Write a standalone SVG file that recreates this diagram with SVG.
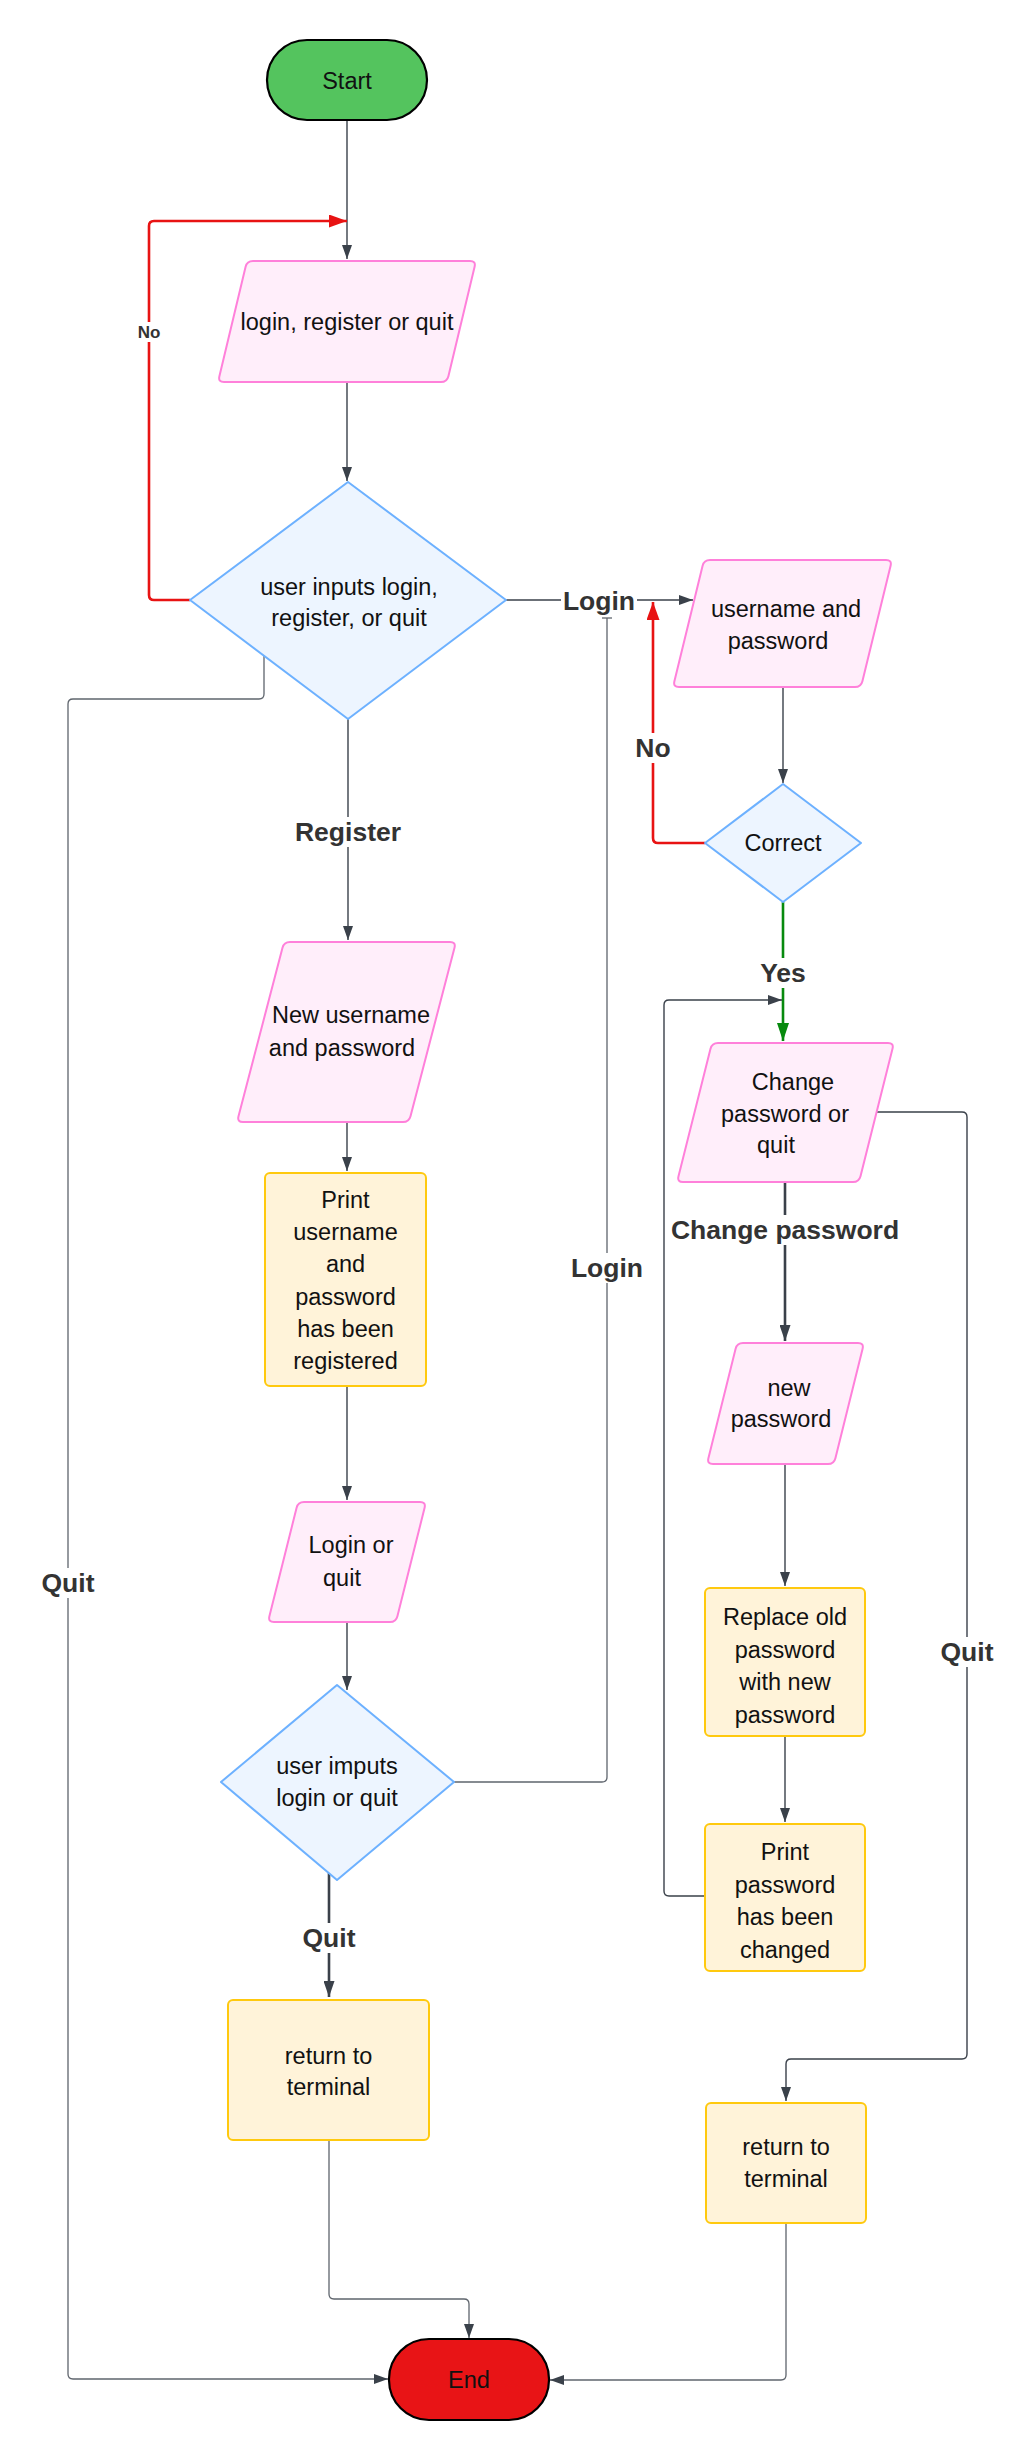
<svg xmlns="http://www.w3.org/2000/svg" width="1034" height="2460" viewBox="0 0 1034 2460">
<style>
.bg{fill:#ffffff}
.t{font-family:"Liberation Sans",Arial,sans-serif;font-size:23.5px;fill:#111;text-anchor:middle;dominant-baseline:central}
.lb{font-family:"Liberation Sans",Arial,sans-serif;font-size:26.5px;font-weight:bold;fill:#333;text-anchor:middle;dominant-baseline:central}
.lbs{font-family:"Liberation Sans",Arial,sans-serif;font-size:17px;font-weight:bold;fill:#333;text-anchor:middle;dominant-baseline:central}
.term{stroke:#000;stroke-width:2.2}
.io{fill:#ffeefa;stroke:#ff80da;stroke-width:2}
.dec{fill:#edf5ff;stroke:#6db1ff;stroke-width:2;stroke-linejoin:round}
.proc{fill:#fff3d9;stroke:#ffc90e;stroke-width:2}
.c{fill:none;stroke:#3a414a;stroke-width:1.4}
.cg{fill:none;stroke:#5f656d;stroke-width:1.3}
.ck{fill:none;stroke:#3a414a;stroke-width:2.6}
.cr{fill:none;stroke:#e81313;stroke-width:2.6}
.cgr{fill:none;stroke:#078a0e;stroke-width:2.6}
.lbg{fill:#ffffff}
</style>
<defs>
<marker id="a" viewBox="0 0 14 10" refX="14" refY="5" markerWidth="14" markerHeight="10" markerUnits="userSpaceOnUse" orient="auto"><path d="M0,0 L14,5 L0,10 Z" fill="#3a414a"/></marker>
<marker id="ak" viewBox="0 0 16 11" refX="16" refY="5.5" markerWidth="16" markerHeight="11" markerUnits="userSpaceOnUse" orient="auto"><path d="M0,0 L16,5.5 L0,11 Z" fill="#3a414a"/></marker>
<marker id="ar" viewBox="0 0 18 13" refX="18" refY="6.5" markerWidth="18" markerHeight="13" markerUnits="userSpaceOnUse" orient="auto"><path d="M0,0 L18,6.5 L0,13 Z" fill="#e81313"/></marker>
<marker id="ag" viewBox="0 0 18 12" refX="18" refY="6" markerWidth="18" markerHeight="12" markerUnits="userSpaceOnUse" orient="auto"><path d="M0,0 L18,6 L0,12 Z" fill="#078a0e"/></marker>
</defs>
<rect class="bg" x="0" y="0" width="1034" height="2460"/>

<g id="connectors">
<path class="c" d="M347,120 L347,259" marker-end="url(#a)"/>
<path class="c" d="M347,382 L347,481" marker-end="url(#a)"/>
<path class="cr" d="M190,600 L154,600 Q149,600 149,595 L149,226 Q149,221 154,221 L347,221" marker-end="url(#ar)"/>
<path class="c" d="M506,600 L693,600" marker-end="url(#a)"/>
<path class="c" d="M348,719 L348,940" marker-end="url(#a)"/>
<path class="cg" d="M264,656 L264,694 Q264,699 259,699 L73,699 Q68,699 68,704 L68,2374 Q68,2379 73,2379 L388,2379" marker-end="url(#a)"/>
<path class="c" d="M347,1122 L347,1171" marker-end="url(#a)"/>
<path class="c" d="M347,1386 L347,1500" marker-end="url(#a)"/>
<path class="c" d="M347,1622 L347,1690" marker-end="url(#a)"/>
<path class="cg" d="M454,1782 L602,1782 Q607,1782 607,1777 L607,618"/>
<path class="cg" d="M602,618 L612,618"/>
<path class="ck" d="M329,1873 L329,1997" marker-end="url(#ak)"/>
<path class="cg" d="M329,2140 L329,2294 Q329,2299 334,2299 L464,2299 Q469,2299 469,2304 L469,2338" marker-end="url(#a)"/>
<path class="c" d="M783,687 L783,783" marker-end="url(#a)"/>
<path class="cr" d="M705,843 L658,843 Q653,843 653,838 L653,602" marker-end="url(#ar)"/>
<path class="cgr" d="M783,902 L783,1041" marker-end="url(#ag)"/>
<path class="ck" d="M785,1182 L785,1341" marker-end="url(#ak)"/>
<path class="c" d="M876.6,1112 L962,1112 Q967,1112 967,1117 L967,2054 Q967,2059 962,2059 L791,2059 Q786,2059 786,2064 L786,2101" marker-end="url(#a)"/>
<path class="c" d="M785,1464 L785,1586" marker-end="url(#a)"/>
<path class="c" d="M785,1736 L785,1822" marker-end="url(#a)"/>
<path class="c" d="M705,1896 L669,1896 Q664,1896 664,1891 L664,1005 Q664,1000 669,1000 L782,1000" marker-end="url(#a)"/>
<path class="cg" d="M786,2223 L786,2375 Q786,2380 781,2380 L550,2380" marker-end="url(#a)"/>

<rect class="lbg" x="136" y="322" width="26" height="20"/><text class="lbs" x="149" y="332">No</text>
<rect class="lbg" x="561" y="586" width="76" height="30"/><text class="lb" x="599" y="601">Login</text>
<rect class="lbg" x="293" y="817" width="110" height="30"/><text class="lb" x="348" y="832">Register</text>
<rect class="lbg" x="40" y="1568" width="56" height="30"/><text class="lb" x="68" y="1583">Quit</text>
<rect class="lbg" x="570" y="1253" width="75" height="30"/><text class="lb" x="607" y="1268">Login</text>
<rect class="lbg" x="301" y="1923" width="56" height="30"/><text class="lb" x="329" y="1938">Quit</text>
<rect class="lbg" x="634" y="733" width="38" height="30"/><text class="lb" x="653" y="748">No</text>
<rect class="lbg" x="759" y="958" width="48" height="30"/><text class="lb" x="783" y="973">Yes</text>
<rect class="lbg" x="667" y="1215" width="236" height="30"/><text class="lb" x="785" y="1230">Change password</text>
<rect class="lbg" x="939" y="1637" width="56" height="30"/><text class="lb" x="967" y="1652">Quit</text>
</g>

<g id="start">
<rect class="term" x="267" y="40" width="160" height="80" rx="40" fill="#54c45e"/>
<text class="t" x="347" y="81">Start</text>
</g>

<g id="input-menu">
<path class="io" d="M253,261 L470,261 Q476,261 474.6,266.8 L448.4,376.2 Q447,382 441,382 L224,382 Q218,382 219.4,376.2 L245.6,266.8 Q247,261 253,261 Z"/>
<text class="t" x="347" y="322">login, register or quit</text>
</g>

<g id="decision-menu">
<polygon class="dec" points="348,482 506,600 348,719 190,600"/>
<text class="t" x="349" y="587">user inputs login,</text>
<text class="t" x="349" y="618">register, or quit</text>
</g>

<g id="input-credentials">
<path class="io" d="M710,560 L886,560 Q892,560 890.6,565.8 L862.4,681.2 Q861,687 855,687 L679,687 Q673,687 674.4,681.2 L702.6,565.8 Q704,560 710,560 Z"/>
<text class="t" x="786" y="609">username and</text>
<text class="t" x="778" y="641">password</text>
</g>

<g id="decision-correct">
<polygon class="dec" points="783,784 861,843 783,902 705,843"/>
<text class="t" x="783" y="843">Correct</text>
</g>

<g id="input-change">
<path class="io" d="M718,1043 L888,1043 Q894,1043 892.5,1048.8 L860.5,1176.2 Q859,1182 853,1182 L683,1182 Q677,1182 678.5,1176.2 L710.5,1048.8 Q712,1043 718,1043 Z"/>
<text class="t" x="793" y="1082">Change</text>
<text class="t" x="785" y="1114">password or</text>
<text class="t" x="776" y="1145">quit</text>
</g>

<g id="input-newpw">
<path class="io" d="M743,1343 L858,1343 Q864,1343 862.6,1348.8 L835.4,1458.2 Q834,1464 828,1464 L713,1464 Q707,1464 708.4,1458.2 L735.6,1348.8 Q737,1343 743,1343 Z"/>
<text class="t" x="789" y="1388">new</text>
<text class="t" x="781" y="1419">password</text>
</g>

<g id="process-replace">
<rect class="proc" x="705" y="1588" width="160" height="148" rx="5"/>
<text class="t" x="785" y="1617">Replace old</text>
<text class="t" x="785" y="1650">password</text>
<text class="t" x="785" y="1682">with new</text>
<text class="t" x="785" y="1715">password</text>
</g>

<g id="process-print-changed">
<rect class="proc" x="705" y="1824" width="160" height="147" rx="5"/>
<text class="t" x="785" y="1852">Print</text>
<text class="t" x="785" y="1885">password</text>
<text class="t" x="785" y="1917">has been</text>
<text class="t" x="785" y="1950">changed</text>
</g>

<g id="process-return-right">
<rect class="proc" x="706" y="2103" width="160" height="120" rx="5"/>
<text class="t" x="786" y="2147">return to</text>
<text class="t" x="786" y="2179">terminal</text>
</g>

<g id="input-newuser">
<path class="io" d="M290,942 L450,942 Q456,942 454.5,947.8 L410.5,1116.2 Q409,1122 403,1122 L243,1122 Q237,1122 238.5,1116.2 L282.5,947.8 Q284,942 290,942 Z"/>
<text class="t" x="351" y="1015">New username</text>
<text class="t" x="342" y="1048">and password</text>
</g>

<g id="process-print-registered">
<rect class="proc" x="265" y="1173" width="161" height="213" rx="5"/>
<text class="t" x="345.5" y="1200">Print</text>
<text class="t" x="345.5" y="1232">username</text>
<text class="t" x="345.5" y="1264">and</text>
<text class="t" x="345.5" y="1297">password</text>
<text class="t" x="345.5" y="1329">has been</text>
<text class="t" x="345.5" y="1361">registered</text>
</g>

<g id="input-login-quit">
<path class="io" d="M304,1502 L420,1502 Q426,1502 424.6,1507.8 L397.4,1616.2 Q396,1622 390,1622 L274,1622 Q268,1622 269.4,1616.2 L296.6,1507.8 Q298,1502 304,1502 Z"/>
<text class="t" x="351" y="1545">Login or</text>
<text class="t" x="342" y="1578">quit</text>
</g>

<g id="decision-login-quit">
<polygon class="dec" points="337,1685 454,1782 337,1880 221,1782"/>
<text class="t" x="337" y="1766">user imputs</text>
<text class="t" x="337" y="1798">login or quit</text>
</g>

<g id="process-return-left">
<rect class="proc" x="228" y="2000" width="201" height="140" rx="5"/>
<text class="t" x="328.5" y="2056">return to</text>
<text class="t" x="328.5" y="2087">terminal</text>
</g>

<g id="end">
<rect class="term" x="389" y="2339" width="160" height="81" rx="40" fill="#e81416"/>
<text class="t" x="469" y="2380">End</text>
</g>
</svg>
